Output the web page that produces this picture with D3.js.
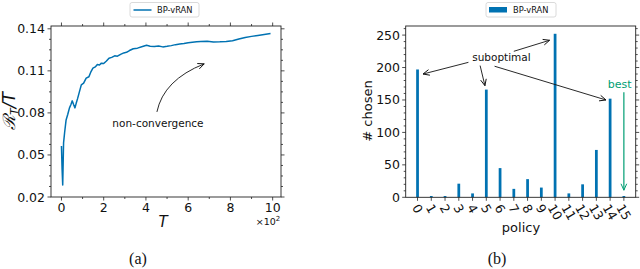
<!DOCTYPE html>
<html>
<head>
<meta charset="utf-8">
<script src="https://cdn.jsdelivr.net/npm/d3@7"></script>
<style>
  body { margin: 0; background: #fff; }
  svg { display: block; font-family: "DejaVu Sans", sans-serif; }
</style>
</head>
<body>
<svg id="chart" width="640" height="269"></svg>
<script>
// (a) regret curve, T in raw steps
var regretT = [0, 3, 6, 10, 15, 22, 30, 38, 45, 51, 57, 64, 70, 76, 84, 94, 105, 117, 130, 140,
  149, 160, 170, 180, 189, 200, 213, 225, 238, 252, 265, 280, 295, 308, 322, 340, 360, 380,
  403, 420, 440, 460, 480, 500, 520, 540, 560, 580, 600, 620, 640, 660, 690, 720, 750, 780,
  810, 840, 870, 900, 930, 960, 990];
var regretValue = [0.0564, 0.040, 0.0286, 0.0586, 0.066, 0.075, 0.079, 0.0836, 0.086, 0.0886,
  0.0862, 0.0836, 0.0870, 0.0900, 0.0945, 0.1000, 0.1012, 0.1048, 0.1058, 0.1095,
  0.1119, 0.1128, 0.1145, 0.1142, 0.1155, 0.1152, 0.1170, 0.1190, 0.1196, 0.1207, 0.1205,
  0.1218, 0.1228, 0.1232, 0.1245, 0.1258, 0.1262, 0.1272, 0.1282, 0.1276, 0.1274, 0.1277,
  0.1271, 0.1275, 0.1280, 0.1287, 0.1291, 0.1295, 0.1300, 0.1304, 0.1307, 0.1310, 0.1312,
  0.1306, 0.1307, 0.1309, 0.1315, 0.1327, 0.1338, 0.1346, 0.1353, 0.1360, 0.1367];
var regretXTicks = [0, 200, 400, 600, 800, 1000];
var regretYTicks = [0.02, 0.05, 0.08, 0.11, 0.14];

// (b) how often each policy was chosen
var policies = d3.range(16);
var chosenCount = [197, 2, 2, 21, 6, 166, 45, 13, 28, 15, 252, 6, 20, 73, 152, 2];
var chosenYTicks = [0, 50, 100, 150, 200, 250];

// annotation anchors, data coords: [fromX, fromY, toX, toY]
var suboptimalArrows = [
  [3.7, 208, 0.4, 190],
  [4.55, 203, 4.9, 172],
  [7.0, 225, 9.6, 242],
  [5.6, 202, 13.7, 150]
];
var bestArrow = [15, 162, 15, 11];
var convergenceArrow = [452, 0.0807, 676, 0.115];

var blue = "#0072B2";
var green = "#009E73";
var svg = d3.select("#chart");

var drawHead = function(g, x1, y1, x2, y2, color) {
  var a = Math.atan2(y2 - y1, x2 - x1);
  var len = 7, spread = 0.42;
  g.append("path")
    .attr("d", "M" + (x2 - len * Math.cos(a - spread)) + "," + (y2 - len * Math.sin(a - spread)) +
      "L" + x2 + "," + y2 +
      "L" + (x2 - len * Math.cos(a + spread)) + "," + (y2 - len * Math.sin(a + spread)))
    .attr("fill", "none")
    .attr("stroke", color)
    .attr("stroke-width", 1);
};

var drawFrame = function(g, x0, x1, y0, y1) {
  g.append("rect")
    .attr("x", x0).attr("y", y1)
    .attr("width", x1 - x0).attr("height", y0 - y1)
    .attr("fill", "none")
    .attr("stroke", "#222")
    .attr("stroke-width", 0.9);
};

var drawTicks = function(g, list, pos, side, len) {
  list.forEach(function(v) {
    var p = pos(v);
    var line = g.append("line").attr("stroke", "#222").attr("stroke-width", 0.8);
    if (side.name === "left") line.attr("x1", side.at).attr("x2", side.at - len).attr("y1", p).attr("y2", p);
    if (side.name === "right") line.attr("x1", side.at).attr("x2", side.at + len).attr("y1", p).attr("y2", p);
    if (side.name === "bottom") line.attr("y1", side.at).attr("y2", side.at + len).attr("x1", p).attr("x2", p);
    if (side.name === "top") line.attr("y1", side.at).attr("y2", side.at - len).attr("x1", p).attr("x2", p);
  });
};

var drawLegend = function(x, w, isBar) {
  var lg = svg.append("g");
  lg.append("rect")
    .attr("x", x).attr("y", 2.5).attr("width", w).attr("height", 14.5)
    .attr("rx", 2).attr("fill", "#fff").attr("stroke", "#d0d0d0").attr("stroke-width", 0.8);
  if (isBar) {
    lg.append("rect").attr("x", x + 3).attr("y", 7).attr("width", 18).attr("height", 5.5).attr("fill", blue);
  } else {
    lg.append("line").attr("x1", x + 3.5).attr("x2", x + 21.5).attr("y1", 10).attr("y2", 10)
      .attr("stroke", blue).attr("stroke-width", 1.5);
  }
  lg.append("text").attr("x", x + 27).attr("y", 13).attr("font-size", 8.3).attr("fill", "#111").text("BP-vRAN");
};

// ---------- (a) ----------
var xA = d3.scaleLinear().domain([-49.5, 1039.5]).range([51, 281]);
var yA = d3.scaleLinear().domain([0.02, 0.142]).range([197, 26]);
var gA = svg.append("g");

gA.append("path")
  .datum(regretT.map(function(t, i) { return [t, regretValue[i]]; }))
  .attr("d", d3.line().x(function(d) { return xA(d[0]); }).y(function(d) { return yA(d[1]); }))
  .attr("fill", "none")
  .attr("stroke", blue)
  .attr("stroke-width", 1.5)
  .attr("stroke-linejoin", "round");

drawFrame(gA, 51, 281, 197, 26);
var minorA = d3.range(100, 1001, 200);
var minorAy = d3.range(0.0275, 0.14, 0.0075).filter(function(v) { return Math.abs((v - 0.02) / 0.03 - Math.round((v - 0.02) / 0.03)) > 0.01; });
drawTicks(gA, regretXTicks, xA, { name: "bottom", at: 197 }, 3.5);
drawTicks(gA, minorA, xA, { name: "bottom", at: 197 }, 2);
drawTicks(gA, regretXTicks, xA, { name: "top", at: 26 }, 3.5);
drawTicks(gA, minorA, xA, { name: "top", at: 26 }, 2);
drawTicks(gA, regretYTicks, yA, { name: "left", at: 51 }, 3.5);
drawTicks(gA, minorAy, yA, { name: "left", at: 51 }, 2);
drawTicks(gA, regretYTicks, yA, { name: "right", at: 281 }, 3.5);
drawTicks(gA, minorAy, yA, { name: "right", at: 281 }, 2);

gA.selectAll(".ytl").data(regretYTicks).enter().append("text")
  .attr("x", 45).attr("y", function(d) { return yA(d); })
  .attr("dy", "0.36em").attr("text-anchor", "end").attr("font-size", 12.5).attr("fill", "#111")
  .text(function(d) { return d.toFixed(2); });
gA.selectAll(".xtl").data(regretXTicks).enter().append("text")
  .attr("x", function(d) { return xA(d); }).attr("y", 212)
  .attr("text-anchor", "middle").attr("font-size", 12.5).attr("fill", "#111")
  .text(function(d) { return d / 100; });

gA.append("text").attr("x", 163).attr("y", 227).attr("text-anchor", "middle")
  .attr("font-size", 15).attr("font-style", "italic").attr("fill", "#111").text("T");
var mult = gA.append("text").attr("x", 268).attr("y", 225).attr("text-anchor", "middle")
  .attr("font-size", 9.5).attr("fill", "#111");
mult.append("tspan").text("×10");
mult.append("tspan").attr("dy", -4).attr("font-size", 7).text("2");

var yl = gA.append("text").attr("transform", "translate(15,111) rotate(-90)")
  .attr("text-anchor", "middle").attr("font-size", 17).attr("fill", "#111");
yl.append("tspan").attr("font-family", "DejaVu Serif").attr("font-style", "italic").text("ℛ");
yl.append("tspan").attr("font-style", "italic").attr("font-size", 11).attr("dy", 3).text("T");
yl.append("tspan").attr("font-style", "italic").attr("dy", -3).text("/T");

gA.append("text").attr("x", xA(457)).attr("y", yA(0.0729)).attr("dy", "0.35em")
  .attr("text-anchor", "middle").attr("font-size", 10.5).attr("fill", "#111").text("non-convergence");
(function() {
  var p0 = [xA(convergenceArrow[0]), yA(convergenceArrow[1])];
  var p2 = [xA(convergenceArrow[2]), yA(convergenceArrow[3])];
  var c = [(p0[0] + p2[0]) / 2 - 17, (p0[1] + p2[1]) / 2 - 8];
  gA.append("path")
    .attr("d", "M" + p0 + "Q" + c + " " + p2)
    .attr("fill", "none").attr("stroke", "#111").attr("stroke-width", 0.9);
  drawHead(gA, c[0], c[1], p2[0], p2[1], "#111");
})();

drawLegend(130, 69, false);

// ---------- (b) ----------
var xB = d3.scaleLinear().domain([-0.86, 15.86]).range([405.7, 635.7]);
var yB = d3.scaleLinear().domain([0, 264]).range([197.3, 26]);
var gB = svg.append("g");
var barW = xB(0.2) - xB(0);

gB.selectAll(".bar").data(chosenCount).enter().append("rect")
  .attr("x", function(d, i) { return xB(policies[i]) - barW / 2; })
  .attr("y", function(d) { return yB(d); })
  .attr("width", barW)
  .attr("height", function(d) { return yB(0) - yB(d); })
  .attr("fill", blue);

drawFrame(gB, 405.7, 635.7, 197.3, 26);
var minorB = d3.range(10, 264, 10).filter(function(v) { return v % 50 !== 0; });
drawTicks(gB, policies, xB, { name: "bottom", at: 197.3 }, 3.5);
drawTicks(gB, chosenYTicks, yB, { name: "left", at: 405.7 }, 3.5);
drawTicks(gB, minorB, yB, { name: "left", at: 405.7 }, 2);
drawTicks(gB, chosenYTicks, yB, { name: "right", at: 635.7 }, 3.5);
drawTicks(gB, minorB, yB, { name: "right", at: 635.7 }, 2);

gB.selectAll(".ytl").data(chosenYTicks).enter().append("text")
  .attr("x", 400).attr("y", function(d) { return yB(d); })
  .attr("dy", "0.36em").attr("text-anchor", "end").attr("font-size", 12.5).attr("fill", "#111")
  .text(function(d) { return d; });

var rot = 60 * Math.PI / 180;
gB.selectAll(".xtl").data(policies).enter().append("text")
  .attr("text-anchor", "middle").attr("dy", "0.35em")
  .attr("font-size", 12.5).attr("fill", "#111")
  .text(function(d) { return d; })
  .each(function(d) {
    var w = this.getComputedTextLength();
    var h = 11;
    var bh = w * Math.sin(rot) + h * Math.cos(rot);
    var cy = 202.5 + bh / 2;
    d3.select(this).attr("transform", "translate(" + xB(d) + "," + cy + ") rotate(60)");
  });

gB.append("text").attr("x", 521).attr("y", 232).attr("text-anchor", "middle")
  .attr("font-size", 13).attr("fill", "#111").text("policy");
gB.append("text").attr("transform", "translate(372,111) rotate(-90)")
  .attr("text-anchor", "middle").attr("font-size", 13).attr("fill", "#111").text("# chosen");

gB.append("text").attr("x", xB(6.1)).attr("y", yB(215)).attr("dy", "0.35em")
  .attr("text-anchor", "middle").attr("font-size", 10.5).attr("fill", "#111").text("suboptimal");
suboptimalArrows.forEach(function(a) {
  var x1 = xB(a[0]), y1 = yB(a[1]), x2 = xB(a[2]), y2 = yB(a[3]);
  gB.append("line").attr("x1", x1).attr("y1", y1).attr("x2", x2).attr("y2", y2)
    .attr("stroke", "#111").attr("stroke-width", 0.9);
  drawHead(gB, x1, y1, x2, y2, "#111");
});

gB.append("text").attr("x", xB(14.7)).attr("y", yB(168)).attr("text-anchor", "middle")
  .attr("font-size", 11).attr("fill", green).text("best");
(function() {
  var x1 = xB(bestArrow[0]), y1 = yB(bestArrow[1]), x2 = xB(bestArrow[2]), y2 = yB(bestArrow[3]);
  gB.append("line").attr("x1", x1).attr("y1", y1).attr("x2", x2).attr("y2", y2)
    .attr("stroke", green).attr("stroke-width", 1.2);
  drawHead(gB, x1, y1, x2, y2, green);
})();

drawLegend(486, 70, true);

// captions
svg.append("text").attr("x", 138).attr("y", 264).attr("text-anchor", "middle")
  .attr("font-family", "Liberation Serif").attr("font-size", 16).attr("fill", "#111").text("(a)");
svg.append("text").attr("x", 497).attr("y", 264).attr("text-anchor", "middle")
  .attr("font-family", "Liberation Serif").attr("font-size", 16).attr("fill", "#111").text("(b)");
</script>
</body>
</html>
